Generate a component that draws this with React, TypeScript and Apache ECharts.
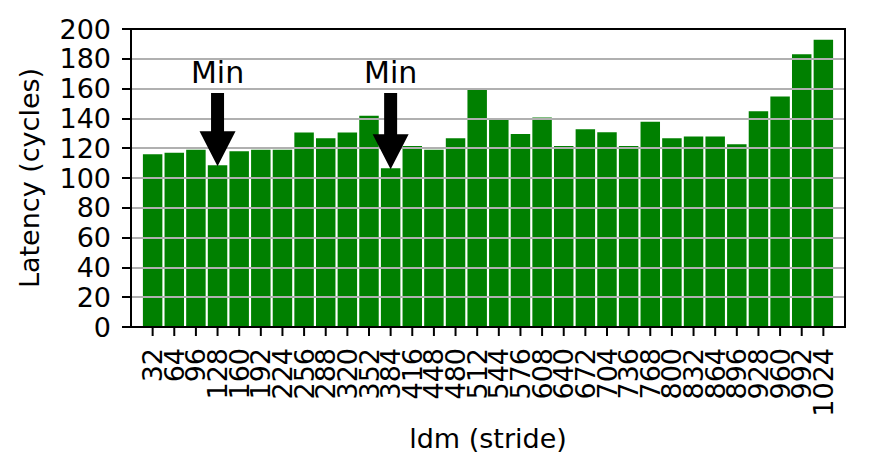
import React, { useEffect, useRef } from "react";
import * as echarts from "echarts";

const categories = [
  "32", "64", "96", "128", "160", "192", "224", "256",
  "288", "320", "352", "384", "416", "448", "480", "512",
  "544", "576", "608", "640", "672", "704", "736", "768",
  "800", "832", "864", "896", "928", "960", "992", "1024",
];

const latency = [
  116, 117, 119, 108.5, 118, 119, 119, 130.5,
  126.7, 130.5, 141.7, 106.5, 121.5, 119, 126.7, 159,
  139.2, 129.6, 140.6, 121.5, 132.7, 130.7, 121.5, 137.7,
  126.7, 127.8, 127.8, 122.6, 144.8, 154.7, 183, 192.8,
];

const yMin = 0;
const yMax = 200;
const yInterval = 20;

const minMarkers = ["128", "384"];
const minLabel = "Min";
const arrowTailValue = 157;

const xAxisTitle = "ldm (stride)";
const yAxisTitle = "Latency (cycles)";

const FONT = '"DejaVu Sans", sans-serif';

export default function App() {
  const ref = useRef<HTMLDivElement>(null);

  useEffect(() => {
    document.body.style.margin = "0";
    const chart = echarts.init(ref.current!, null, { renderer: "svg" });

    const axisCats = ["", ...categories, " "];
    const barData: (number | string)[] = ["-", ...latency, "-"];
    const tickData = categories.map((_, i) => [i + 1, yMin]);
    const arrowData = minMarkers.map((c) => {
      const i = categories.indexOf(c);
      return [i + 1, latency[i]];
    });

    chart.setOption({
      animation: false,
      backgroundColor: "#ffffff",
      textStyle: { fontFamily: FONT },
      grid: {
        left: 131,
        right: 27,
        top: 29,
        bottom: 149,
        show: true,
        borderColor: "#000",
        borderWidth: 2,
        backgroundColor: "transparent",
        z: 5,
      },
      xAxis: {
        type: "category",
        data: axisCats,
        boundaryGap: false,
        name: xAxisTitle,
        nameLocation: "middle",
        nameGap: 98,
        nameTextStyle: { fontSize: 27, color: "#000", fontFamily: FONT },
        axisLine: { show: true, lineStyle: { color: "#000", width: 2 } },
        axisTick: { show: false },
        axisLabel: {
          rotate: 90,
          interval: 0,
          showMinLabel: true,
          showMaxLabel: true,
          hideOverlap: false,
          margin: 21,
          fontSize: 27,
          color: "#000",
          fontFamily: FONT,
        },
        splitLine: { show: false },
      },
      yAxis: {
        type: "value",
        min: yMin,
        max: yMax,
        interval: yInterval,
        name: yAxisTitle,
        nameLocation: "middle",
        nameGap: 88,
        nameTextStyle: { fontSize: 27, color: "#000", fontFamily: FONT },
        z: 3,
        axisLine: { show: true, lineStyle: { color: "#000", width: 2 } },
        axisTick: { show: true, length: 9, lineStyle: { color: "#000", width: 2 } },
        axisLabel: { margin: 20, fontSize: 27, color: "#000", fontFamily: FONT },
        splitLine: { show: true, lineStyle: { color: "#b0b0b0", width: 2 } },
      },
      series: [
        {
          type: "bar",
          data: barData,
          barWidth: "90%",
          itemStyle: { color: "#008000" },
          z: 2,
        },
        {
          type: "custom",
          z: 6,
          clip: false,
          silent: true,
          data: tickData,
          encode: { x: 0, y: 1 },
          renderItem: (params: any, api: any) => {
            const p = api.coord([api.value(0), api.value(1)]);
            return {
              type: "line",
              shape: { x1: p[0], y1: p[1], x2: p[0], y2: p[1] + 9 },
              style: { stroke: "#000", lineWidth: 2 },
            };
          },
        },
        {
          type: "custom",
          z: 10,
          data: arrowData,
          encode: { x: 0, y: 1 },
          renderItem: (params: any, api: any) => {
            const tip = api.coord([api.value(0), api.value(1)]);
            const tail = api.coord([api.value(0), arrowTailValue]);
            const cx = tip[0];
            const tipY = tip[1] + 1;
            const ty = tail[1];
            const headLen = 35;
            const headHalf = 18;
            const shaftHalf = 6.5;
            return {
              type: "group",
              children: [
                {
                  type: "polygon",
                  shape: {
                    points: [
                      [cx - shaftHalf, ty],
                      [cx + shaftHalf, ty],
                      [cx + shaftHalf, tipY - headLen],
                      [cx + headHalf, tipY - headLen],
                      [cx, tipY],
                      [cx - headHalf, tipY - headLen],
                      [cx - shaftHalf, tipY - headLen],
                    ],
                  },
                  style: { fill: "#000" },
                },
                {
                  type: "text",
                  x: cx,
                  y: ty - 21,
                  style: {
                    text: minLabel,
                    fill: "#000",
                    font: `30px ${FONT}`,
                    align: "center",
                    verticalAlign: "middle",
                  },
                },
              ],
            };
          },
        },
      ],
    });

    return () => chart.dispose();
  }, []);

  return (
    <div
      ref={ref}
      style={{ position: "absolute", left: 0, top: 0, width: 872, height: 476 }}
    />
  );
}
